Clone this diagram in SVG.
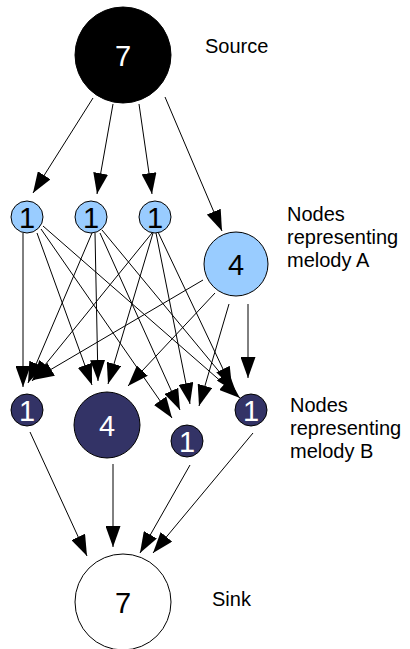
<svg xmlns="http://www.w3.org/2000/svg" width="410" height="649" viewBox="0 0 410 649">
<style>
.e{stroke:#000;stroke-width:1;fill:none;marker-end:url(#ah)}
.n{stroke:#000;stroke-width:1}
.num{font-family:"Liberation Sans",Arial,sans-serif;font-size:29px;text-anchor:middle}
.lbl{font-family:"Liberation Sans",Arial,sans-serif;font-size:20px;fill:#000}
</style>
<defs>
<marker id="ah" markerWidth="21" markerHeight="15" refX="21" refY="7.5" orient="auto" markerUnits="userSpaceOnUse"><path d="M0,0 L21,7.5 L0,15 Z" fill="#000"/></marker>
</defs>
<rect width="410" height="649" fill="#fff"/>
<g id="connectors">
<line class="e" x1="93" y1="98" x2="33" y2="193"/>
<line class="e" x1="113" y1="104" x2="97" y2="194"/>
<line class="e" x1="139" y1="104" x2="152" y2="194"/>
<line class="e" x1="165" y1="97" x2="222" y2="231"/>
<line class="e" x1="23" y1="233" x2="23" y2="387"/>
<line class="e" x1="37" y1="233" x2="92" y2="385"/>
<line class="e" x1="41" y1="229" x2="172" y2="418"/>
<line class="e" x1="43" y1="226" x2="240" y2="398"/>
<line class="e" x1="92" y1="233" x2="28" y2="383"/>
<line class="e" x1="95" y1="233" x2="98" y2="381"/>
<line class="e" x1="100" y1="233" x2="180" y2="410"/>
<line class="e" x1="102" y1="230" x2="236" y2="392"/>
<line class="e" x1="152" y1="233" x2="32" y2="381"/>
<line class="e" x1="153" y1="233" x2="108" y2="384"/>
<line class="e" x1="156" y1="233" x2="190" y2="404"/>
<line class="e" x1="158" y1="232" x2="232" y2="388"/>
<line class="e" x1="203" y1="280" x2="33" y2="380"/>
<line class="e" x1="215" y1="293" x2="128" y2="386"/>
<line class="e" x1="229" y1="304" x2="199" y2="406"/>
<line class="e" x1="248" y1="304" x2="248" y2="378"/>
<line class="e" x1="30" y1="432" x2="87" y2="556"/>
<line class="e" x1="113" y1="464" x2="113" y2="547"/>
<line class="e" x1="190" y1="465" x2="140" y2="553"/>
<line class="e" x1="253" y1="433" x2="153" y2="553"/>
</g>
<g id="source"><circle class="n" cx="123" cy="55" r="48" fill="#000"/><text class="num" x="123" y="66" fill="#fff">7</text></g>
<g id="a1"><circle class="n" cx="27" cy="217" r="16" fill="#99ccff"/><text class="num" x="27" y="228" fill="#000">1</text></g>
<g id="a2"><circle class="n" cx="91" cy="217" r="16" fill="#99ccff"/><text class="num" x="91" y="228" fill="#000">1</text></g>
<g id="a3"><circle class="n" cx="155" cy="217" r="16" fill="#99ccff"/><text class="num" x="155" y="228" fill="#000">1</text></g>
<g id="a4"><circle class="n" cx="236" cy="264" r="32" fill="#99ccff"/><text class="num" x="236" y="275" fill="#000">4</text></g>
<g id="b1"><circle class="n" cx="27" cy="410" r="16" fill="#333366"/><text class="num" x="27" y="421" fill="#fff">1</text></g>
<g id="b2"><circle class="n" cx="107" cy="425" r="33" fill="#333366"/><text class="num" x="107" y="436" fill="#fff">4</text></g>
<g id="b3"><circle class="n" cx="187" cy="441" r="16" fill="#333366"/><text class="num" x="187" y="452" fill="#fff">1</text></g>
<g id="b4"><circle class="n" cx="251" cy="410" r="16" fill="#333366"/><text class="num" x="251" y="421" fill="#fff">1</text></g>
<g id="sink"><circle class="n" cx="123" cy="602" r="48" fill="#fff"/><text class="num" x="123" y="613" fill="#000">7</text></g>
<g id="labels">
<text class="lbl" x="205" y="53">Source</text>
<text class="lbl" x="287" y="221">Nodes</text>
<text class="lbl" x="287" y="244">representing</text>
<text class="lbl" x="287" y="267">melody A</text>
<text class="lbl" x="290" y="412">Nodes</text>
<text class="lbl" x="290" y="435">representing</text>
<text class="lbl" x="290" y="458">melody B</text>
<text class="lbl" x="212" y="606">Sink</text>
</g>
</svg>
